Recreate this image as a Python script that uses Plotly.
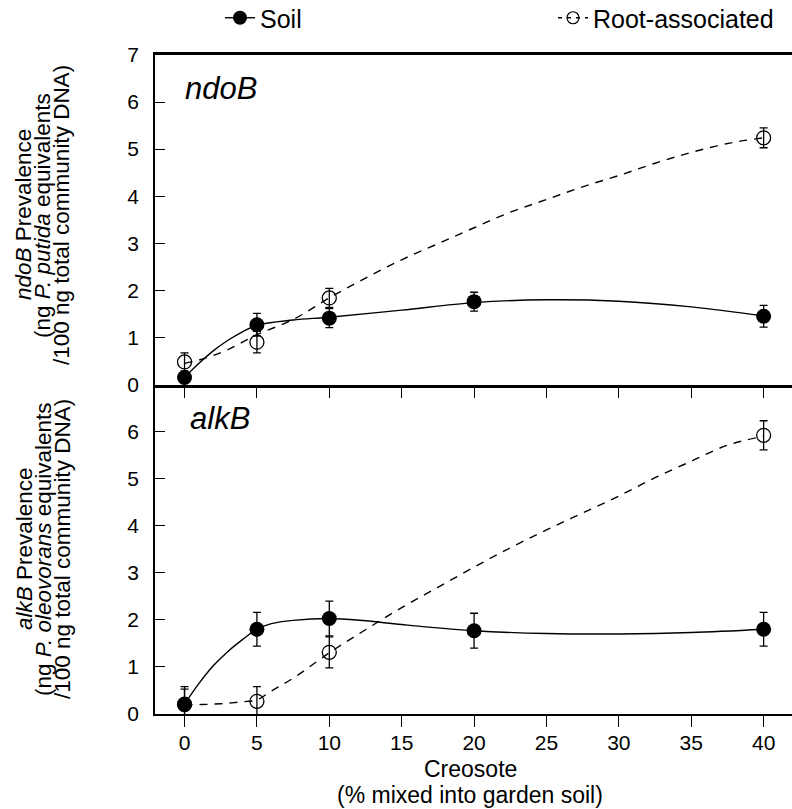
import plotly.graph_objects as go

# ---------------- data ----------------
conc = [0, 5, 10, 20, 40]
conc_root = [0, 5, 10, 40]

ndo_soil = [0.15, 1.27, 1.41, 1.76, 1.45]
ndo_soil_err = [0.05, 0.24, 0.20, 0.20, 0.23]
ndo_root = [0.48, 0.90, 1.84, 5.24]
ndo_root_err = [0.19, 0.23, 0.20, 0.21]

alk_soil = [0.21, 1.80, 2.03, 1.77, 1.80]
alk_soil_err = [0.37, 0.36, 0.37, 0.37, 0.36]
alk_root = [0.20, 0.27, 1.31, 5.92]
alk_root_err = [0.33, 0.31, 0.33, 0.31]

# fitted curves
ndo_soil_fit_x = [0, 1, 2, 3, 4, 5, 7.5, 10, 15, 20, 25, 30, 35, 40]
ndo_soil_fit_y = [0.15, 0.45, 0.72, 0.94, 1.12, 1.26, 1.37, 1.43, 1.58, 1.74, 1.80, 1.77, 1.65, 1.46]
ndo_root_fit_x = [0, 1, 2, 3, 4, 5, 7.5, 10, 12.5, 15, 17.5, 20, 22.5, 25, 27.5, 30, 32.5, 35, 37.5, 40]
ndo_root_fit_y = [0.45, 0.52, 0.62, 0.74, 0.90, 1.06, 1.38, 1.84, 2.26, 2.65, 2.99, 3.33, 3.66, 3.93, 4.20, 4.44, 4.70, 4.93, 5.12, 5.24]
alk_soil_fit_x = [0, 1, 2, 3, 4, 5, 6, 7.5, 10, 12.5, 15, 20, 25, 30, 35, 40]
alk_soil_fit_y = [0.21, 0.65, 1.03, 1.33, 1.58, 1.80, 1.92, 1.99, 2.03, 1.98, 1.90, 1.77, 1.71, 1.70, 1.73, 1.80]
alk_root_fit_x = [0, 1, 2, 3, 4, 5, 6, 7.5, 10, 12.5, 15, 17.5, 20, 22.5, 25, 27.5, 30, 32.5, 35, 37.5, 40]
alk_root_fit_y = [0.20, 0.20, 0.21, 0.23, 0.26, 0.30, 0.49, 0.76, 1.30, 1.79, 2.26, 2.69, 3.12, 3.53, 3.91, 4.27, 4.63, 5.02, 5.37, 5.71, 5.90]

x_ticks = [0, 5, 10, 15, 20, 25, 30, 35, 40]
x_title_lines = ["Creosote", "(% mixed into garden soil)"]
top_lines = ["<i>ndoB</i> Prevalence", "(ng <i>P. putida</i> equivalents", "/100 ng total community DNA)"]
bot_lines = ["<i>alkB</i> Prevalence", "(ng <i>P. oleovorans</i> equivalents", "/100 ng total community DNA)"]

FONT = "Liberation Sans, Arial, sans-serif"
BLACK = "black"

fig = go.Figure()

def add_panel(xa, ya, sx, sy, rx, ry, sfx, sfy, rfx, rfy, serr, rerr):
    fig.add_trace(go.Scatter(x=sfx, y=sfy, mode="lines", line=dict(color=BLACK, width=1.4, shape="spline"),
                             xaxis=xa, yaxis=ya, showlegend=False, hoverinfo="skip"))
    fig.add_trace(go.Scatter(x=rfx, y=rfy, mode="lines", line=dict(color=BLACK, width=1.4, shape="spline", dash="8px,7px"),
                             xaxis=xa, yaxis=ya, showlegend=False, hoverinfo="skip"))
    fig.add_trace(go.Scatter(x=rx, y=ry, mode="markers",
                             marker=dict(symbol="circle-open", size=14, color=BLACK, line=dict(width=1.3, color=BLACK)),
                             error_y=dict(type="data", array=rerr, visible=True, color=BLACK, thickness=1.3, width=4),
                             xaxis=xa, yaxis=ya, showlegend=False, cliponaxis=False))
    fig.add_trace(go.Scatter(x=sx, y=sy, mode="markers",
                             marker=dict(symbol="circle", size=15, color=BLACK),
                             error_y=dict(type="data", array=serr, visible=True, color=BLACK, thickness=1.3, width=4),
                             xaxis=xa, yaxis=ya, showlegend=False, cliponaxis=False))

add_panel("x", "y", conc, ndo_soil, conc_root, ndo_root, ndo_soil_fit_x, ndo_soil_fit_y,
          ndo_root_fit_x, ndo_root_fit_y, ndo_soil_err, ndo_root_err)
add_panel("x2", "y2", conc, alk_soil, conc_root, alk_root, alk_soil_fit_x, alk_soil_fit_y,
          alk_root_fit_x, alk_root_fit_y, alk_soil_err, alk_root_err)

# legend entries
fig.add_trace(go.Scatter(x=[None], y=[None], mode="lines+markers", name="Soil",
                         line=dict(color=BLACK, width=1.4), marker=dict(symbol="circle", size=14, color=BLACK),
                         legend="legend"))
fig.add_trace(go.Scatter(x=[None], y=[None], mode="lines+markers", name="Root-associated",
                         line=dict(color=BLACK, width=1.4, dash="4px,5px"),
                         marker=dict(symbol="circle-open", size=12, color=BLACK, line=dict(width=1.2, color=BLACK)),
                         legend="legend2"))

XR = [-2.04, 41.96]
common_x = dict(range=XR, tickvals=x_ticks, ticks="outside", ticklen=11, tickwidth=1.3, tickcolor=BLACK,
                showgrid=False, zeroline=False, showline=True, linecolor=BLACK)
common_y = dict(range=[0, 7], ticks="inside", ticklen=10, tickwidth=1.3, tickcolor=BLACK,
                showgrid=False, zeroline=False, showline=True, linecolor=BLACK, linewidth=1.5,
                tickfont=dict(size=21, color=BLACK, family=FONT), ticklabelstandoff=10)

fig.update_layout(
    width=792, height=809,
    margin=dict(l=155, r=0, t=55, b=95),
    paper_bgcolor="white", plot_bgcolor="white",
    font=dict(family=FONT, color=BLACK),
    xaxis=dict(**common_x, domain=[0, 1], anchor="y", showticklabels=False, linewidth=2.5, mirror=True),
    yaxis=dict(**common_y, domain=[0.5, 1], anchor="x", tickvals=[0, 1, 2, 3, 4, 5, 6, 7]),
    xaxis2=dict(**common_x, domain=[0, 1], anchor="y2", linewidth=1.5, ticklabelstandoff=-2,
                tickfont=dict(size=21, color=BLACK, family=FONT)),
    yaxis2=dict(**common_y, domain=[0, 0.5], anchor="x2", tickvals=[0, 1, 2, 3, 4, 5, 6]),
    legend=dict(x=220 / 792, y=1 - 18 / 809, xref="container", yref="container", xanchor="left", yanchor="middle",
                orientation="h", font=dict(size=25, color=BLACK, family=FONT), bgcolor="rgba(0,0,0,0)"),
    legend2=dict(x=553 / 792, y=1 - 18 / 809, xref="container", yref="container", xanchor="left", yanchor="middle",
                 orientation="h", font=dict(size=25, color=BLACK, family=FONT), bgcolor="rgba(0,0,0,0)"),
)

W = 792 - 155
H = 659
def px(p):
    return (p - 155) / W
def py(p):
    return 1 - (p - 55) / H

ann = []
ann.append(dict(text="<i>ndoB</i>", x=px(183), y=py(89), xref="paper", yref="paper",
                xanchor="left", yanchor="middle", showarrow=False, font=dict(size=31, color=BLACK, family=FONT)))
ann.append(dict(text="<i>alkB</i>", x=px(188), y=py(418), xref="paper", yref="paper",
                xanchor="left", yanchor="middle", showarrow=False, font=dict(size=31, color=BLACK, family=FONT)))

line_x = [24, 43, 62]
for lines, cy in [(top_lines, 215), (bot_lines, 549)]:
    for t, lx in zip(lines, line_x):
        ann.append(dict(text=t, x=px(lx), y=py(cy), xref="paper", yref="paper",
                        xanchor="center", yanchor="middle", textangle=-90, showarrow=False,
                        font=dict(size=22.5, color=BLACK, family=FONT)))

for t, cy in zip(x_title_lines, [769, 795]):
    ann.append(dict(text=t, x=px(470), y=py(cy), xref="paper", yref="paper",
                    xanchor="center", yanchor="middle", showarrow=False, borderpad=0,
                    font=dict(size=23, color=BLACK, family=FONT)))
fig.update_layout(annotations=ann)

fig.write_html("out.html")
